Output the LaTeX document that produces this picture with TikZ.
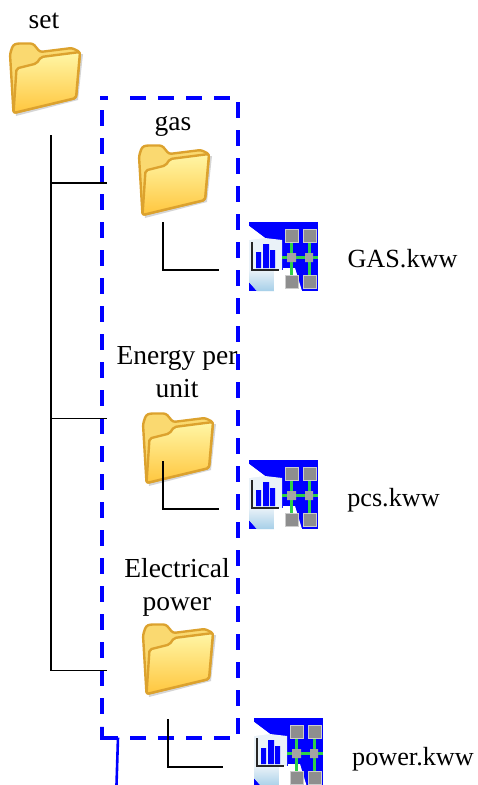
\documentclass[tikz,border=0pt]{standalone}
\usepackage{fontspec}
\setmainfont{Liberation Serif}
\definecolor{fline}{HTML}{DCA22E}
\definecolor{ftop}{HTML}{FFF6A6}
\definecolor{fbot}{HTML}{FFC63E}
\definecolor{fback}{HTML}{FAD970}
\definecolor{gsq}{HTML}{8E8E8E}
\definecolor{grn}{HTML}{2FD048}
\definecolor{pagec}{HTML}{EAF2F8}
\definecolor{foldc}{HTML}{A6CFE8}
\tikzset{
  lbl/.style={font=\fontsize{27.5}{33}\selectfont,align=center,inner sep=0pt,anchor=base},
  filelbl/.style={lbl,font=\fontsize{26.2}{30}\selectfont},
  conn/.style={draw=black,line width=1.6pt},
  framepart/.style={draw=blue,line width=4pt,dash pattern=on 16pt off 12pt},
  framesolid/.style={draw=blue,line width=4pt},
  tail/.style={draw=blue,line width=2.6pt},
  folder/.pic={
    \fill[black!30,opacity=.55] (5,15) -- (74,12) -- (69,58) -- (7,74) -- cycle;
    \filldraw[draw=fline,line width=2.4pt,fill=fback,rounded corners=2.5pt,line join=round]
      (1,12) -- (4,3) -- (8,1.5) -- (24,1.5) -- (31,10) -- (63,6) -- (71,10) -- (67,56) -- (4.5,71) -- cycle;
    \shade[top color=ftop,bottom color=fbot,draw=fline,line width=2.4pt,rounded corners=2pt,line join=round]
      (7.5,26.5) -- (27.5,21.5) -- (32,15) -- (71,10) -- (67,56) -- (4.5,71) -- cycle;
  },
  netsq/.style={fill=gsq,draw=black!20,line width=.8pt},
  netlink/.style={draw=grn,line width=3pt},
  kwwicon/.pic={
    \fill[blue] (0,0) rectangle (69,69);
    \fill[white] (34,46) -- (46,46) -- (53,69) -- (34,69) -- cycle;
    \fill[pagec] (0,4) -- (16,16) -- (33,18) -- (33,48) -- (25,48) -- (25,69) -- (8,69) -- (0,60) -- cycle;
    \fill[white] (0,4) -- (16,16) -- (0,18) -- cycle;
    \shade[top color=pagec,bottom color=foldc] (0,48) -- (25,48) -- (25,69) -- (8,69) -- (0,60) -- cycle;
    \fill[white] (25,48) -- (34,48) -- (34,69) -- (25,69) -- cycle;
    \fill[blue] (7,30) rectangle (12,46) (14,22) rectangle (20,46) (21,28) rectangle (26,46);
    \draw[black!85,line width=1.4pt] (3,20) -- (3,48) -- (30,48);
    \draw[netlink] (42,20) -- (42,53) (60,20) -- (60,53) (33,35) -- (69,35);
    \fill[netsq] (36,7) rectangle (49,20) (54,7) rectangle (67,20) (36,53) rectangle (49,66) (54,53) rectangle (67,66);
    \fill[gsq!80] (38,31) rectangle (47,40) (56,31) rectangle (64,40);
  }
}
\begin{document}
\begin{tikzpicture}[x=1pt,y=-1pt]
\useasboundingbox (0,0) rectangle (477,785);
% folders and icons
\pic at (9,42) {folder};
\pic at (138,144) {folder};
\pic at (142,412) {folder};
\pic at (142,623) {folder};
\pic at (249,222) {kwwicon};
\pic at (249,460) {kwwicon};
\pic at (254,718) {kwwicon};
% labels
\node[lbl] (setL) at (44,28) {set};
\node[lbl] (gasL) at (173,130) {gas};
\node[lbl] (energyL) at (177,397) {Energy per\\unit};
\node[lbl] (powerL) at (177,610) {Electrical\\power};
\node[filelbl] (gasF) at (402.5,267.5) {GAS.kww};
\node[filelbl] (pcsF) at (393.5,506) {pcs.kww};
\node[filelbl] (powF) at (413,765) {power.kww};
% anchors of the connectors
\coordinate (trunkTop) at (51,135);
\coordinate (trunkEnd) at (51,670.5);
\coordinate (gasIn) at (107,183);
\coordinate (energyIn) at (107,418.5);
\coordinate (powerIn) at (107,670.5);
\coordinate (gasOut) at (163,222);
\coordinate (gasFile) at (219,270);
\coordinate (energyOut) at (163,461);
\coordinate (energyFile) at (219,509);
\coordinate (powerOut) at (168,719);
\coordinate (powerFile) at (223,767);
\coordinate (frameStart) at (118,737.5);
\coordinate (frameTail) at (116.5,785);
\coordinate (cornerNW) at (102,98);
\coordinate (cornerSW) at (102,737.5);
% blue frame
\draw[framepart] (130,98) -- (238,98);
\draw[framesolid] (100,98) -- (108,98);
\draw[framepart] (238,102) -- (238,737);
\draw[framepart] (230,737.5) -- (125,737.5);
\draw[framepart] (cornerNW |- 0,110) -- (cornerNW |- 0,726);
\draw[framesolid] (102,727) -- (cornerSW) -- (frameStart);
\draw[tail] (frameStart) -- (frameTail);
% connectors
\draw[conn] (trunkTop) -- (trunkEnd);
\draw[conn] (trunkTop |- gasIn) -- (gasIn);
\draw[conn] (trunkTop |- energyIn) -- (energyIn);
\draw[conn] (trunkEnd) -- (powerIn);
\draw[conn] (gasOut) |- (gasFile);
\draw[conn] (energyOut) |- (energyFile);
\draw[conn] (powerOut) |- (powerFile);
\end{tikzpicture}
\end{document}
